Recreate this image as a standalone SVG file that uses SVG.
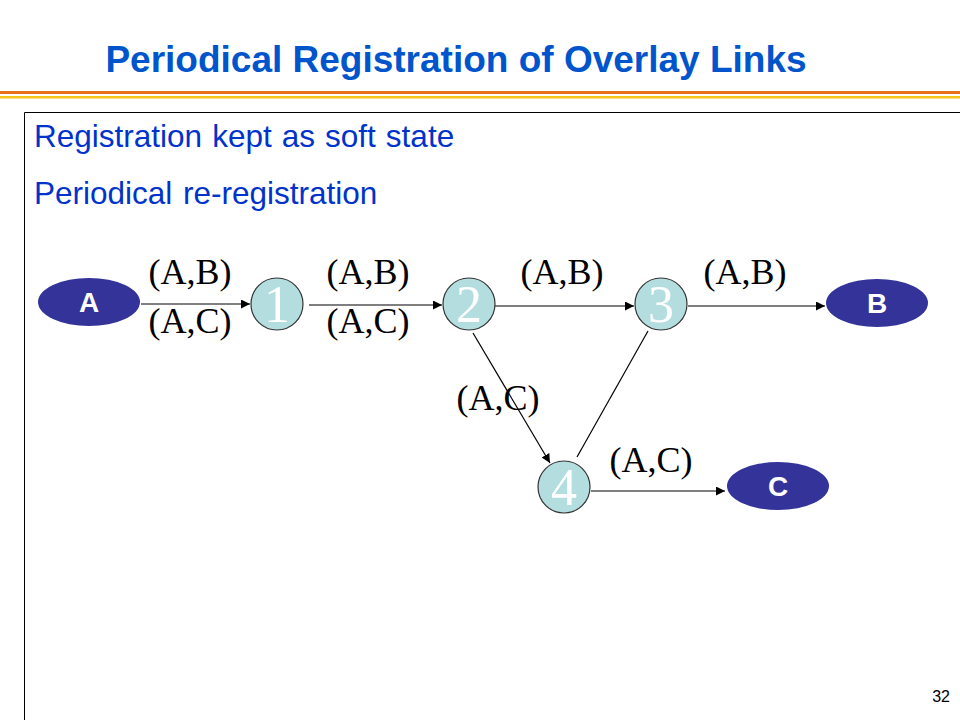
<svg xmlns="http://www.w3.org/2000/svg" width="960" height="720" viewBox="0 0 960 720">
<style>
.title{font-family:"Liberation Sans",Arial,sans-serif;font-weight:bold;font-size:37px;fill:#0055CC}
.body{font-family:"Liberation Sans",Arial,sans-serif;font-size:31.5px;fill:#0033CC}
.lbl{font-family:"Liberation Serif","Times New Roman",serif;font-size:36px;fill:#000}
.ell{fill:#333399}
.elt{font-family:"Liberation Sans",Arial,sans-serif;font-weight:bold;font-size:28px;fill:#fff}
.cir{fill:#B4DDE0;stroke:#333;stroke-width:1.2}
.cit{font-family:"Liberation Serif","Times New Roman",serif;font-size:52px;fill:#fff}
.edge{stroke:#000;stroke-width:1.2;fill:none}
</style>
<defs>
<marker id="arr" viewBox="0 0 10 10" refX="10" refY="5" markerWidth="9" markerHeight="9" markerUnits="userSpaceOnUse" orient="auto">
<path d="M0,0 L10,5 L0,10 z" fill="#000"/>
</marker>
</defs>
<rect width="960" height="720" fill="#fff"/>
<text class="title" x="456" y="72" text-anchor="middle">Periodical Registration of Overlay Links</text>
<rect x="0" y="91" width="960" height="3" fill="#E8701A"/>
<rect x="0" y="96" width="960" height="2.5" fill="#F5C518"/>
<path d="M24.5,720 V112.5 H960" stroke="#000" stroke-width="1" fill="none"/>
<text class="body" x="34" y="147" word-spacing="1.3">Registration kept as soft state</text>
<text class="body" x="34" y="204" word-spacing="2">Periodical re-registration</text>
<g id="connectors">
<line class="edge" x1="141" y1="304" x2="250" y2="304" marker-end="url(#arr)"/>
<line class="edge" x1="309" y1="305" x2="442" y2="305" marker-end="url(#arr)"/>
<line class="edge" x1="495" y1="306" x2="634" y2="306" marker-end="url(#arr)"/>
<line class="edge" x1="688" y1="306" x2="825" y2="306" marker-end="url(#arr)"/>
<line class="edge" x1="473" y1="333" x2="550" y2="463" marker-end="url(#arr)"/>
<line class="edge" x1="648" y1="331" x2="577" y2="457"/>
<line class="edge" x1="591" y1="491" x2="725" y2="491" marker-end="url(#arr)"/>
<text class="lbl" x="190" y="284" text-anchor="middle">(A,B)</text>
<text class="lbl" x="190" y="333" text-anchor="middle">(A,C)</text>
<text class="lbl" x="368" y="284" text-anchor="middle">(A,B)</text>
<text class="lbl" x="368" y="333" text-anchor="middle">(A,C)</text>
<text class="lbl" x="562" y="284" text-anchor="middle">(A,B)</text>
<text class="lbl" x="745" y="284" text-anchor="middle">(A,B)</text>
<text class="lbl" x="498" y="410" text-anchor="middle">(A,C)</text>
<text class="lbl" x="651" y="472" text-anchor="middle">(A,C)</text>
</g>
<g id="node-A"><ellipse class="ell" cx="89" cy="302" rx="51" ry="24"/><text class="elt" x="89" y="312" text-anchor="middle">A</text></g>
<g id="node-1"><circle class="cir" cx="277" cy="304" r="26"/><text class="cit" x="277" y="322" text-anchor="middle">1</text></g>
<g id="node-2"><circle class="cir" cx="469" cy="304" r="26"/><text class="cit" x="469" y="322" text-anchor="middle">2</text></g>
<g id="node-3"><circle class="cir" cx="661" cy="304" r="26"/><text class="cit" x="661" y="322" text-anchor="middle">3</text></g>
<g id="node-4"><circle class="cir" cx="564" cy="487" r="26"/><text class="cit" x="564" y="505" text-anchor="middle">4</text></g>
<g id="node-B"><ellipse class="ell" cx="877" cy="303" rx="51" ry="24"/><text class="elt" x="877" y="313" text-anchor="middle">B</text></g>
<g id="node-C"><ellipse class="ell" cx="778" cy="486" rx="51" ry="24"/><text class="elt" x="778" y="496" text-anchor="middle">C</text></g>
<text x="950" y="702" text-anchor="end" font-family="Liberation Sans,Arial,sans-serif" font-size="16" fill="#000">32</text>
</svg>
